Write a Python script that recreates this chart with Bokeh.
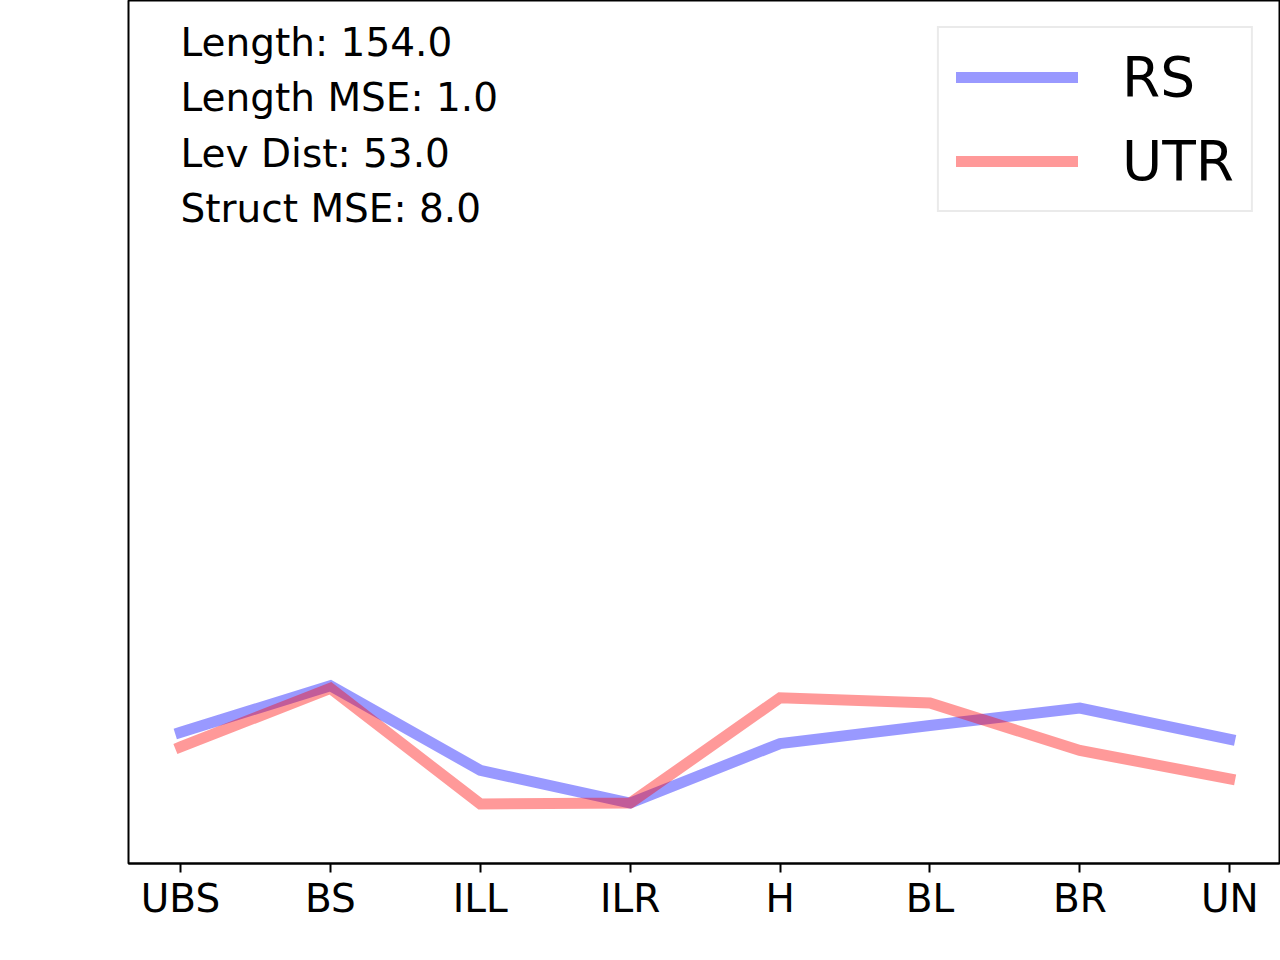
from bokeh.plotting import figure
from bokeh.models import Range1d, FixedTicker, Label, Legend, LegendItem
from bokeh.embed import file_html
from bokeh.resources import INLINE

categories = ["UBS", "BS", "ILL", "ILR", "H", "BL", "BR", "UN"]
rs_values = [0.152, 0.206, 0.108, 0.070, 0.139, 0.160, 0.180, 0.144]
utr_values = [0.135, 0.203, 0.069, 0.070, 0.192, 0.186, 0.131, 0.098]
stats_lines = ["Length: 154.0", "Length MSE: 1.0", "Lev Dist: 53.0", "Struct MSE: 8.0"]

FONT = "DejaVu Sans"
xs = list(range(len(categories)))

p = figure(width=1280, height=960, output_backend="svg", toolbar_location=None,
           x_range=Range1d(-0.347, 7.332), y_range=Range1d(0, 1),
           min_border_left=128, min_border_right=1, min_border_top=0,
           min_border_bottom=97)
p.background_fill_color = "white"
p.border_fill_color = "white"
p.outline_line_color = "black"
p.outline_line_width = 2
p.xgrid.visible = False
p.ygrid.visible = False
p.yaxis.visible = False

ax = p.xaxis[0]
ax.ticker = FixedTicker(ticks=xs)
ax.major_label_overrides = {i: c for i, c in enumerate(categories)}
ax.major_label_text_font = FONT
ax.major_label_text_font_size = "39px"
ax.major_label_text_color = "black"
ax.major_label_standoff = 3
ax.major_tick_in = 0
ax.major_tick_out = 9
ax.major_tick_line_width = 2
ax.major_tick_line_color = "black"
ax.minor_tick_line_color = None
ax.axis_line_color = "black"
ax.axis_line_width = 2

r_rs = p.line(xs, rs_values, line_color="blue", line_alpha=0.4, line_width=11,
              line_cap="square", line_join="miter")
r_utr = p.line(xs, utr_values, line_color="red", line_alpha=0.4, line_width=11,
               line_cap="square", line_join="miter")

legend = Legend(items=[LegendItem(label="RS", renderers=[r_rs]),
                       LegendItem(label="UTR", renderers=[r_utr])],
                location="top_right")
legend.label_text_font = FONT
legend.label_text_font_size = "55px"
legend.label_text_color = "black"
legend.glyph_width = 122
legend.glyph_height = 62
legend.label_height = 62
legend.label_standoff = 44
legend.spacing = 20
legend.padding = 17
legend.margin = 26
legend.border_line_color = "#d6d6d6"
legend.border_line_width = 2
legend.background_fill_color = "white"
legend.background_fill_alpha = 0.8
p.add_layout(legend)

stat_y = [0.951, 0.888, 0.823, 0.759]
for txt, yy in zip(stats_lines, stat_y):
    p.add_layout(Label(x=0.0, y=yy, text=txt, text_font=FONT,
                       text_font_size="39px", text_color="black",
                       text_align="left", text_baseline="alphabetic"))

open("out.html", "w").write(file_html(p, INLINE))
